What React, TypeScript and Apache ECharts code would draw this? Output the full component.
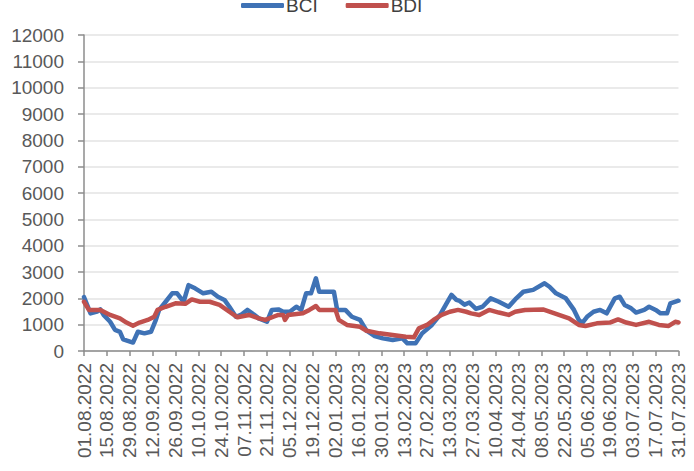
import React, { useEffect, useRef } from "react";
import * as echarts from "echarts";

// Day offsets counted from 01.08.2022
const START_UTC = Date.UTC(2022, 7, 1);
const xTickStepDays = 14;
const xMaxDays = 364;

const yTicks = [0, 1000, 2000, 3000, 4000, 5000, 6000, 7000, 8000, 9000, 10000, 11000, 12000];

const bciDays = [
  0, 4, 8, 10, 12, 16, 19, 22, 24, 30, 33, 37, 41, 44, 46, 50, 54, 57, 61, 64, 68, 73, 78, 82, 86, 89, 93, 96,
  100, 103, 107, 112, 115, 119, 122, 126, 130, 133, 136, 139, 142, 144, 153, 155, 160, 164, 169, 173, 178, 183,
  189, 195, 198, 203, 207, 213, 218, 222, 225, 228, 230, 233, 236, 240, 244, 249, 254, 260, 264, 269, 275, 282,
  285, 289, 295, 300, 303, 305, 308, 312, 316, 320, 325, 328, 331, 335, 338, 343, 346, 350, 353, 357, 359, 364,
];
const bciValues = [
  2050, 1430, 1500, 1580, 1370, 1110, 800, 730, 440, 320, 730, 670, 730, 1180, 1560, 1870, 2190, 2190, 1870, 2500,
  2380, 2190, 2250, 2060, 1940, 1680, 1300, 1370, 1560, 1430, 1240, 1110, 1560, 1580, 1490, 1490, 1680, 1560, 2190,
  2190, 2760, 2250, 2250, 1560, 1560, 1300, 1180, 770, 570, 480, 420, 480, 290, 290, 670, 990, 1370, 1810, 2130,
  1940, 1900, 1760, 1840, 1600, 1680, 2000, 1870, 1680, 1960, 2250, 2320, 2570, 2440, 2190, 2000, 1560, 1180, 1060,
  1300, 1490, 1560, 1430, 2000, 2060, 1750, 1620, 1460, 1560, 1680, 1560, 1430, 1430, 1810, 1910,
];

const bdiDays = [
  0, 3, 10, 16, 22, 26, 30, 34, 39, 43, 45, 50, 56, 62, 66, 71, 77, 83, 89, 94, 101, 107, 111, 116, 119, 122, 123,
  125, 134, 138, 142, 144, 154, 156, 161, 169, 173, 181, 189, 197, 202, 205, 210, 214, 219, 224, 229, 234, 237, 242,
  248, 254, 260, 264, 270, 281, 289, 297, 303, 307, 314, 322, 327, 332, 338, 346, 352, 358, 362, 364,
];
const bdiValues = [
  1870, 1560, 1560, 1370, 1240, 1080, 960, 1080, 1180, 1300, 1560, 1680, 1810, 1790, 1960, 1870, 1870, 1750, 1490,
  1280, 1370, 1240, 1180, 1300, 1370, 1370, 1180, 1370, 1430, 1560, 1710, 1560, 1560, 1180, 990, 920, 770, 670, 610,
  545, 520, 860, 990, 1180, 1370, 1490, 1560, 1490, 1430, 1370, 1560, 1460, 1370, 1490, 1560, 1580, 1410, 1240, 990,
  950, 1050, 1080, 1200, 1080, 990, 1110, 990, 950, 1110, 1080,
];

const seriesNames = ["BCI", "BDI"];
const seriesColors = ["#3F72B5", "#C0504D"];

function fmtDate(offset: number): string {
  const d = new Date(START_UTC + offset * 86400000);
  const dd = String(d.getUTCDate()).padStart(2, "0");
  const mm = String(d.getUTCMonth() + 1).padStart(2, "0");
  return `${dd}.${mm}.${d.getUTCFullYear()}`;
}

const FONT = "'Liberation Sans', Arial, sans-serif";

export default function App() {
  const ref = useRef<HTMLDivElement>(null);
  useEffect(() => {
    if (!ref.current) return;
    const chart = echarts.init(ref.current, undefined, { renderer: "svg" });
    const bci = bciDays.map((d, i) => [d, bciValues[i]]);
    const bdi = bdiDays.map((d, i) => [d, bdiValues[i]]);
    chart.setOption({
      animation: false,
      backgroundColor: "#ffffff",
      textStyle: { fontFamily: FONT },
      legend: {
        top: -9,
        left: 236,
        itemWidth: 43,
        itemHeight: 5,
        itemGap: 28,
        icon: "roundRect",
        data: seriesNames,
        textStyle: { fontSize: 19, color: "#404040", fontFamily: FONT, padding: [0, 0, 0, -3] },
      },
      grid: { left: 84, right: 15.5, top: 35, bottom: 120, containLabel: false },
      xAxis: {
        type: "value",
        min: 0,
        max: xMaxDays,
        interval: xTickStepDays,
        splitLine: { show: false },
        axisLine: { show: true, lineStyle: { color: "#8C8C8C", width: 1.5 } },
        axisTick: { show: true, length: 5, lineStyle: { color: "#8C8C8C", width: 1.5 } },
        axisLabel: {
          rotate: 90,
          margin: 12,
          fontSize: 19,
          color: "#595959",
          fontFamily: FONT,
          formatter: (v: number) => fmtDate(v),
        },
      },
      yAxis: {
        type: "value",
        min: yTicks[0],
        max: yTicks[yTicks.length - 1],
        interval: yTicks[1] - yTicks[0],
        axisLine: { show: true, lineStyle: { color: "#8C8C8C", width: 1.5 } },
        axisTick: { show: true, inside: false, length: 6, lineStyle: { color: "#8C8C8C", width: 1.5 } },
        splitLine: { show: true, lineStyle: { color: "#E3E3E3", width: 1.5 } },
        axisLabel: {
          margin: 20,
          fontSize: 19,
          color: "#595959",
          fontFamily: FONT,
          formatter: (v: number) => String(v),
        },
      },
      series: [
        {
          name: seriesNames[0],
          type: "line",
          data: bci,
          showSymbol: false,
          symbol: "none",
          color: seriesColors[0],
          lineStyle: { width: 4.5, color: seriesColors[0], join: "round", cap: "round" },
          z: 3,
        },
        {
          name: seriesNames[1],
          type: "line",
          data: bdi,
          showSymbol: false,
          symbol: "none",
          color: seriesColors[1],
          lineStyle: { width: 4.5, color: seriesColors[1], join: "round", cap: "round" },
          z: 4,
        },
      ],
    });
    return () => chart.dispose();
  }, []);
  return (
    <div
      ref={ref}
      style={{ position: "fixed", left: 0, top: 0, width: 694, height: 471, background: "#fff" }}
    />
  );
}
